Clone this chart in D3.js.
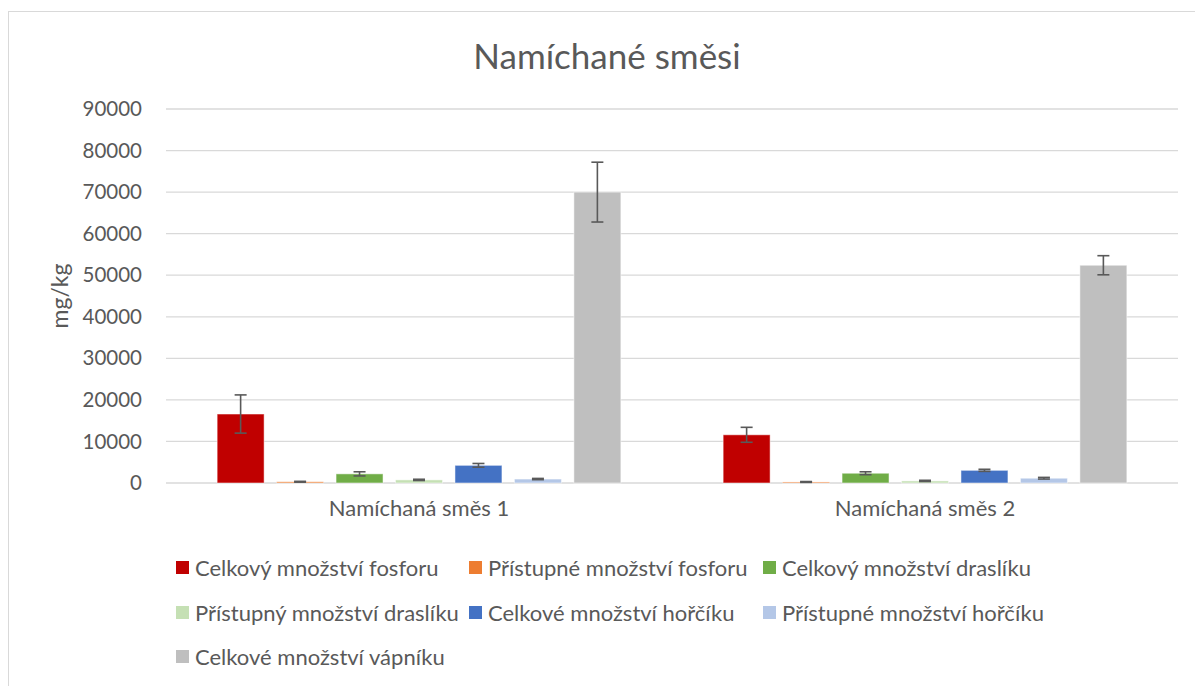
<!DOCTYPE html>
<html>
<head>
<meta charset="utf-8">
<script src="https://cdn.jsdelivr.net/npm/d3@7"></script>
<style>
  body { margin: 0; background: #fff; }
  text { font-family: Lato, "Open Sans", sans-serif; fill: #595959; }
</style>
</head>
<body>
<div id="chart"></div>
<script>
// data
const categories = ["Namíchaná směs 1", "Namíchaná směs 2"];
const seriesNames = [
  "Celkový množství fosforu",
  "Přístupné množství fosforu",
  "Celkový množství draslíku",
  "Přístupný množství draslíku",
  "Celkové množství hořčíku",
  "Přístupné množství hořčíku",
  "Celkové množství vápníku"
];
const colors = ["#C00000", "#ED7D31", "#70AD47", "#C5E0B4", "#4472C4", "#B4C7E7", "#BFBFBF"];
const values1 = [16600, 300, 2200, 750, 4250, 950, 70000];
const values2 = [11600, 250, 2350, 500, 3050, 1150, 52400];
const errors1 = [4600, 100, 500, 150, 450, 150, 7200];
const errors2 = [1800, 100, 350, 150, 250, 200, 2300];
const yTicks = [0, 10000, 20000, 30000, 40000, 50000, 60000, 70000, 80000, 90000];

const W = 1195, H = 686;
const margin = {left: 166, right: 17, top: 109, bottom: 203};
const width = W - margin.left - margin.right,
      height = H - margin.top - margin.bottom;

const svg = d3.select("#chart").append("svg")
  .attr("width", W)
  .attr("height", H);

// chart border
svg.append("rect")
  .attr("x", 8.5).attr("y", 11.5)
  .attr("width", 1200).attr("height", 700)
  .attr("fill", "none")
  .attr("stroke", "#D9D9D9");

// title
svg.append("text")
  .attr("x", 607)
  .attr("y", 69)
  .attr("text-anchor", "middle")
  .attr("font-size", "35px")
  .text("Namíchané směsi");

const g = svg.append("g")
  .attr("transform", `translate(${margin.left}, ${margin.top})`);

let x0 = d3.scaleBand()
  .domain(categories)
  .range([0, width])
  .padding(0);

let x1 = d3.scaleBand()
  .domain(seriesNames)
  .range([0, x0.bandwidth()])
  .paddingInner(0.21)
  .paddingOuter(0.86);

let y = d3.scaleLinear()
  .domain([0, 90000])
  .range([height, 0]);

// gridlines
g.append("g")
  .selectAll("line")
  .data(yTicks)
  .enter().append("line")
    .attr("x1", 0)
    .attr("x2", width)
    .attr("y1", d => y(d))
    .attr("y2", d => y(d))
    .attr("stroke", "#D9D9D9")
    .attr("stroke-width", 1.3);

// y axis labels
let yAxis = d3.axisLeft(y).tickValues(yTicks).tickSize(0).tickPadding(24)
  .tickFormat(d3.format("d"));
let yAxisGroup = g.append("g").call(yAxis);
yAxisGroup.select(".domain").remove();
yAxisGroup.selectAll("text")
  .attr("font-size", "20.5px")
  .attr("fill", "#595959")
  .style("font-family", "Lato, sans-serif");

// x axis labels
let xAxis = d3.axisBottom(x0).tickSize(0).tickPadding(17);
let xAxisGroup = g.append("g")
  .attr("transform", `translate(0, ${height})`)
  .call(xAxis);
xAxisGroup.select(".domain").remove();
xAxisGroup.selectAll("text")
  .attr("font-size", "22px")
  .attr("fill", "#595959")
  .style("font-family", "Lato, sans-serif");

// y label
svg.append("text")
  .attr("transform", "translate(68, 296) rotate(-90)")
  .attr("text-anchor", "middle")
  .attr("font-size", "23px")
  .text("mg/kg");

const rows = [];
categories.forEach((c, ci) => {
  const vals = ci === 0 ? values1 : values2;
  const errs = ci === 0 ? errors1 : errors2;
  seriesNames.forEach((s, si) => {
    rows.push({cat: c, series: s, value: vals[si], err: errs[si], color: colors[si]});
  });
});

// bars
g.selectAll("rect.bar")
  .data(rows)
  .enter().append("rect")
    .attr("class", "bar")
    .attr("x", d => x0(d.cat) + x1(d.series))
    .attr("y", d => y(d.value))
    .attr("width", x1.bandwidth())
    .attr("height", d => height - y(d.value))
    .attr("fill", d => d.color)
    .attr("stroke", "#fff")
    .attr("stroke-opacity", 0.5)
    .attr("stroke-width", 1);

// error bars
const eb = g.selectAll("g.err")
  .data(rows)
  .enter().append("g")
    .attr("class", "err")
    .attr("transform", d => `translate(${x0(d.cat) + x1(d.series) + x1.bandwidth() / 2}, 0)`);

eb.append("line")
  .attr("y1", d => y(d.value + d.err))
  .attr("y2", d => y(d.value - d.err))
  .attr("stroke", "#595959")
  .attr("stroke-width", 1.6);
eb.append("line")
  .attr("x1", -6).attr("x2", 6)
  .attr("y1", d => y(d.value + d.err))
  .attr("y2", d => y(d.value + d.err))
  .attr("stroke", "#595959")
  .attr("stroke-width", 1.6);
eb.append("line")
  .attr("x1", -6).attr("x2", 6)
  .attr("y1", d => y(d.value - d.err))
  .attr("y2", d => y(d.value - d.err))
  .attr("stroke", "#595959")
  .attr("stroke-width", 1.6);

// legend: 3 columns
const legCols = [176, 469, 763];
const legRows = [568, 613, 657];
const legend = svg.append("g")
  .selectAll("g")
  .data(seriesNames)
  .enter().append("g")
    .attr("transform", (d, i) => `translate(${legCols[i % 3]}, ${legRows[Math.floor(i / 3)]})`);

legend.append("rect")
  .attr("x", 0).attr("y", -7)
  .attr("width", 13).attr("height", 13)
  .attr("fill", (d, i) => colors[i]);

legend.append("text")
  .attr("x", 19)
  .attr("y", 0)
  .attr("dy", "0.35em")
  .attr("font-size", "22px")
  .text(d => d);
</script>
</body>
</html>
